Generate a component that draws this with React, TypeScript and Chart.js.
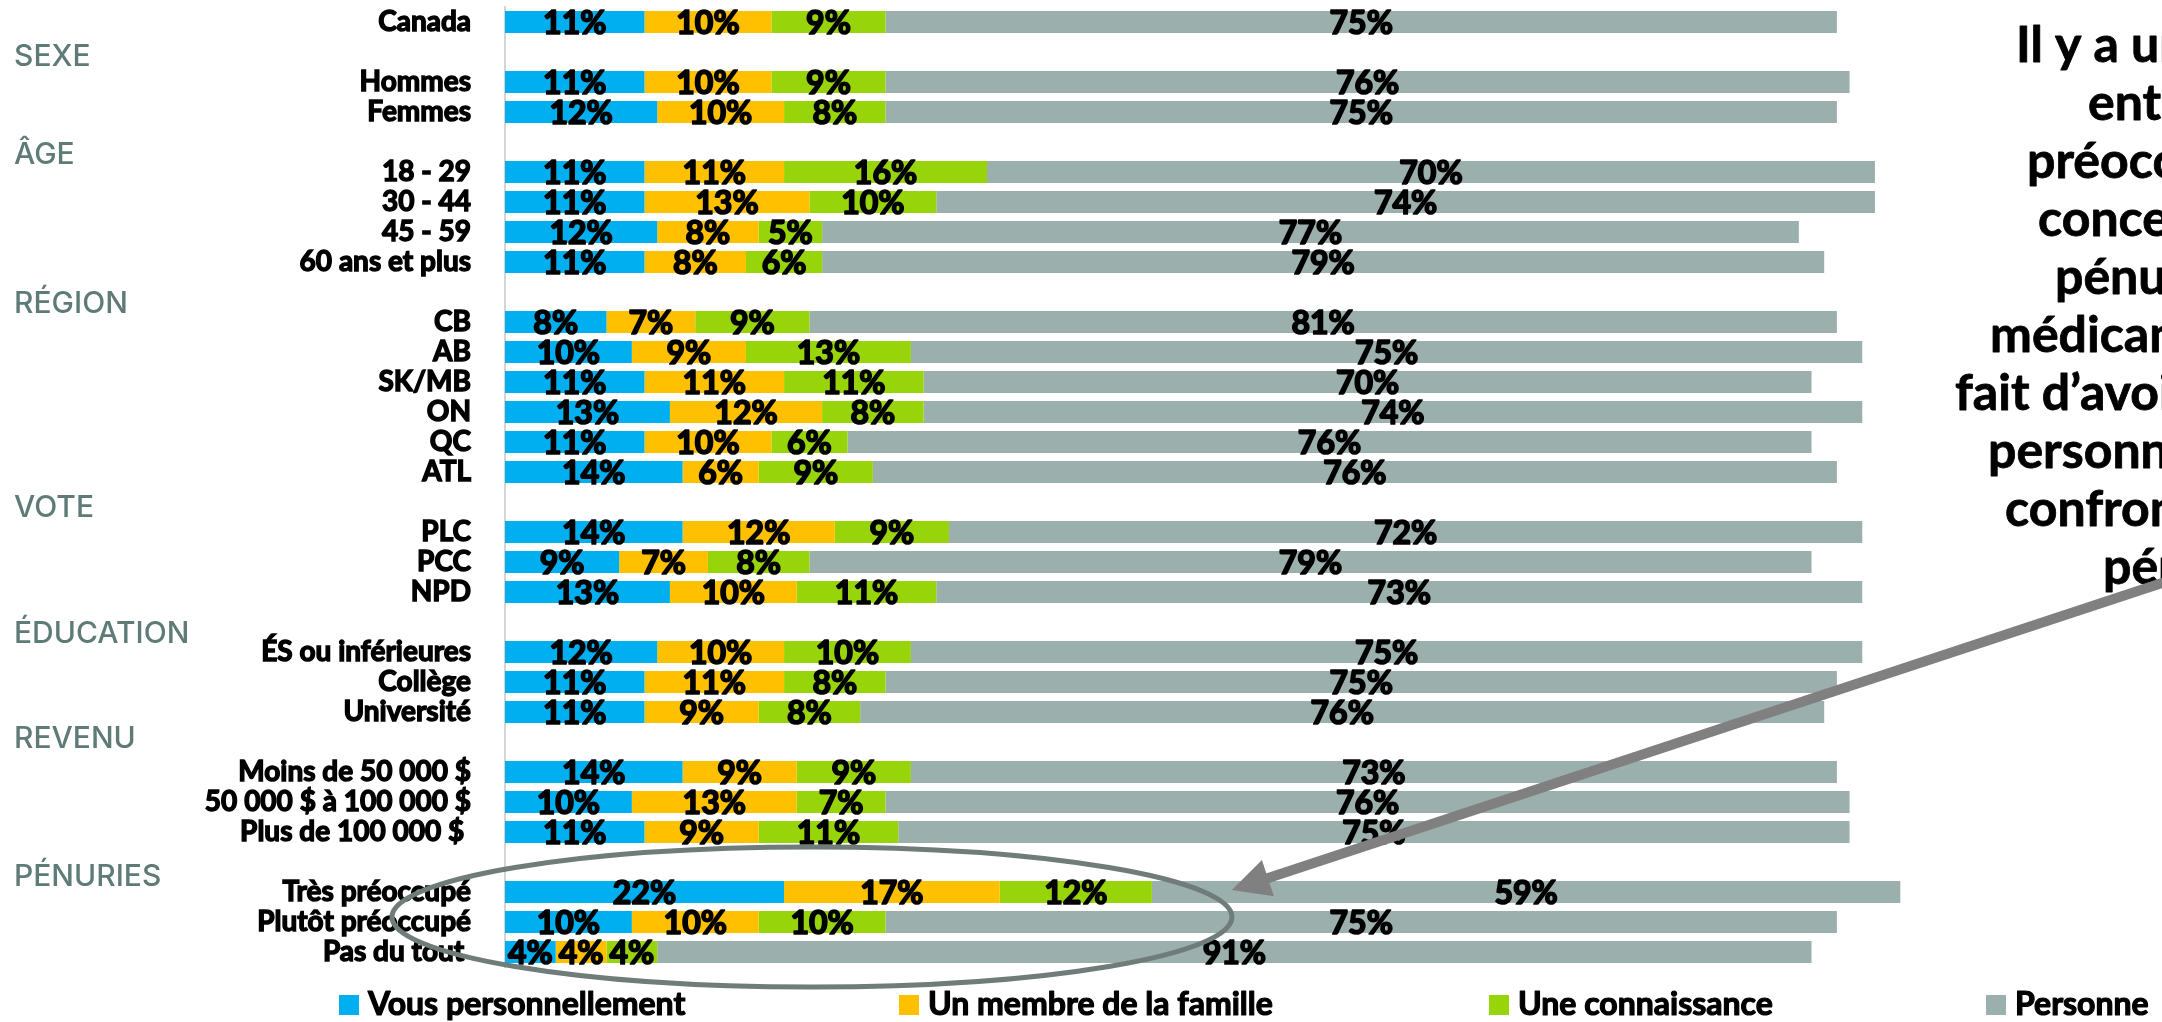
import React, { useEffect, useRef } from "react";
import { Chart, registerables } from "chart.js";

Chart.register(...registerables);

const categories = [
  "Canada", "",
  "Hommes", "Femmes", "",
  "18 - 29", "30 - 44", "45 - 59", "60 ans et plus", "",
  "CB", "AB", "SK/MB", "ON", "QC", "ATL", "",
  "PLC", "PCC", "NPD", "",
  "ÉS ou inférieures", "Collège", "Université", "",
  "Moins de 50 000 $", "50 000 $ à 100 000 $", "Plus de 100 000 $ ", "",
  "Très préoccupé", "Plutôt préoccupé", "Pas du tout ",
];

const groupHeaders = ["SEXE", "ÂGE", "RÉGION", "VOTE", "ÉDUCATION", "REVENU", "PÉNURIES"];

const seriesNames = ["Vous personnellement", "Un membre de la famille", "Une connaissance", "Personne"];

const vous = [11, null, 11, 12, null, 11, 11, 12, 11, null, 8, 10, 11, 13, 11, 14, null, 14, 9, 13, null, 12, 11, 11, null, 14, 10, 11, null, 22, 10, 4];
const famille = [10, null, 10, 10, null, 11, 13, 8, 8, null, 7, 9, 11, 12, 10, 6, null, 12, 7, 10, null, 10, 11, 9, null, 9, 13, 9, null, 17, 10, 4];
const connaissance = [9, null, 9, 8, null, 16, 10, 5, 6, null, 9, 13, 11, 8, 6, 9, null, 9, 8, 11, null, 10, 8, 8, null, 9, 7, 11, null, 12, 10, 4];
const personne = [75, null, 76, 75, null, 70, 74, 77, 79, null, 81, 75, 70, 74, 76, 76, null, 72, 79, 73, null, 75, 75, 76, null, 73, 76, 75, null, 59, 75, 91];

const calloutLines = [
  "Il y a un lien",
  "entre la",
  "préoccupation",
  "concernant les",
  "pénuries de",
  "médicaments et le",
  "fait d’avoir été",
  "personnellement",
  "confronté à une",
  "pénurie",
];

const COLORS = ["#00AFEF", "#FFC000", "#97D40A", "#9BAFAD"];
const FONT = "Lato, 'Open Sans', 'DejaVu Sans', sans-serif";

// layout-only nudges for the group header text (px, relative to the blank row)
const HEADER_NUDGE = [5, 13, 12, 6, 12, -3, 15];

function heavyText(ctx: CanvasRenderingContext2D, t: string, x: number, y: number, w: number) {
  ctx.lineWidth = w;
  ctx.lineJoin = "round";
  ctx.strokeText(t, x, y);
  ctx.fillText(t, x, y);
}

const overlayPlugin = {
  id: "overlay",
  afterDatasetsDraw(chart: any) {
    const ctx = chart.ctx;
    ctx.save();
    ctx.fillStyle = "#000";
    ctx.strokeStyle = "#000";
    ctx.font = `bold 32px ${FONT}`;
    ctx.textAlign = "center";
    ctx.textBaseline = "alphabetic";
    chart.data.datasets.forEach((ds: any, i: number) => {
      const meta = chart.getDatasetMeta(i);
      meta.data.forEach((bar: any, j: number) => {
        const v = ds.data[j];
        if (v == null) return;
        const p = bar.getProps(["x", "y", "base"], true);
        const cx = (p.x + p.base) / 2;
        heavyText(ctx, v + "%", cx, p.y + 11.5, 1.7);
      });
    });
    ctx.restore();
  },
  afterDraw(chart: any) {
    const ctx = chart.ctx;
    const xs = chart.scales.x;
    const ys = chart.scales.y;
    ctx.save();

    // group headers at blank rows
    const blanks: number[] = [];
    categories.forEach((c, i) => { if (c === "") blanks.push(i); });
    ctx.fillStyle = "#5F7B78";
    ctx.font = `500 30px Inter, ${FONT}`;
    ctx.textAlign = "left";
    ctx.textBaseline = "middle";
    groupHeaders.forEach((h, k) => {
      const y = ys.getPixelForValue(blanks[k]) + HEADER_NUDGE[k];
      ctx.fillText(h, 14, y);
    });

    // legend
    const legendX = [339, 899, 1489, 1986];
    ctx.font = `bold 32px ${FONT}`;
    ctx.textBaseline = "alphabetic";
    ctx.strokeStyle = "#000";
    seriesNames.forEach((n, i) => {
      ctx.fillStyle = COLORS[i];
      ctx.fillRect(legendX[i], 995, 20, 20);
      ctx.fillStyle = "#000";
      heavyText(ctx, n, legendX[i] + 29, 1015, 1.2);
    });

    // callout text on the right
    const lineX = [2016, 2088, 2027, 2038, 2055, 1990, 1955, 1988, 2005, 2103];
    ctx.font = `bold 50px ${FONT}`;
    ctx.fillStyle = "#000";
    ctx.textBaseline = "middle";
    calloutLines.forEach((t, i) => {
      heavyText(ctx, t, lineX[i], 46 + i * 58, 0.8);
    });

    // ellipse
    const ecx = xs.getPixelForValue(24.2);
    const ecy = ys.getPixelForValue(30) - 5;
    ctx.beginPath();
    ctx.ellipse(ecx, ecy, 420, 70, 0, 0, Math.PI * 2);
    ctx.strokeStyle = "#6F7C7A";
    ctx.lineWidth = 5;
    ctx.stroke();

    // arrow
    const tipX = xs.getPixelForValue(57.3);
    const tipY = ys.getPixelForValue(29) - 2;
    const dx = 1, dy = -0.33;
    const len = Math.hypot(dx, dy);
    const ux = dx / len, uy = dy / len;
    const px = -uy, py = ux;
    const head = 38, halfW = 19;
    ctx.strokeStyle = "#808080";
    ctx.fillStyle = "#808080";
    ctx.lineWidth = 10;
    ctx.beginPath();
    ctx.moveTo(tipX + ux * (head - 2), tipY + uy * (head - 2));
    ctx.lineTo(tipX + ux * 1200, tipY + uy * 1200);
    ctx.stroke();
    ctx.beginPath();
    ctx.moveTo(tipX, tipY);
    ctx.lineTo(tipX + ux * head + px * halfW, tipY + uy * head + py * halfW);
    ctx.lineTo(tipX + ux * head - px * halfW, tipY + uy * head - py * halfW);
    ctx.closePath();
    ctx.fill();

    ctx.restore();
  },
};

export default function App() {
  const ref = useRef<HTMLCanvasElement | null>(null);
  useEffect(() => {
    if (!ref.current) return;
    const chart = new Chart(ref.current, {
      type: "bar",
      data: {
        labels: categories,
        datasets: [vous, famille, connaissance, personne].map((d, i) => ({
          label: seriesNames[i],
          data: d,
          backgroundColor: COLORS[i],
          borderWidth: 0,
          categoryPercentage: 1,
          barPercentage: 0.733,
        })),
      },
      options: {
        indexAxis: "y",
        animation: false,
        responsive: false,
        devicePixelRatio: 1,
        layout: { padding: { left: 0, right: 8, top: 7, bottom: 55 } },
        plugins: { legend: { display: false }, tooltip: { enabled: false } },
        scales: {
          x: { stacked: true, min: 0, max: 130, display: false },
          y: {
            stacked: true,
            grid: { display: false },
            border: { display: true, color: "#D5D5D5", width: 2 },
            ticks: {
              autoSkip: false,
              color: "#000",
              padding: 26,
              textStrokeColor: "#000",
              textStrokeWidth: 1.4,
              font: { family: FONT, weight: "bold", size: 28 },
            },
            afterFit: (s: any) => {
              s.width = 505;
              s.paddingTop = 0;
              s.paddingBottom = 0;
            },
          },
        },
      },
      plugins: [overlayPlugin],
    } as any);
    return () => chart.destroy();
  }, []);
  return (
    <div style={{ position: "absolute", left: 0, top: 0, width: 2162, height: 1022, background: "#fff", overflow: "hidden" }}>
      <canvas ref={ref} width={2162} height={1022} />
    </div>
  );
}
